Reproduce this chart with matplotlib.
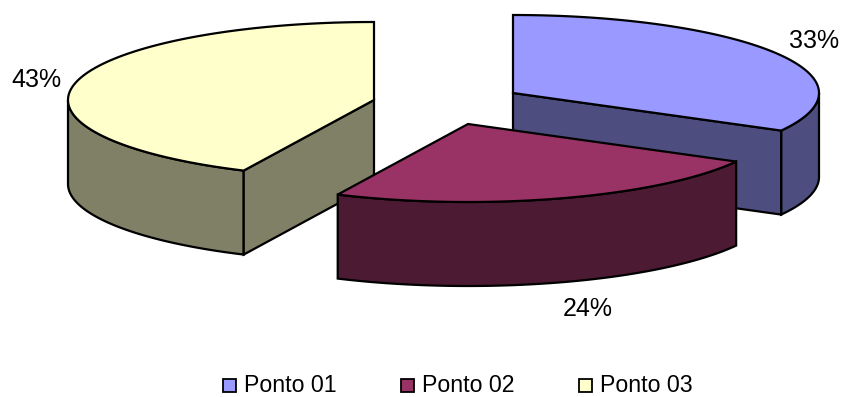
import numpy as np
import matplotlib
matplotlib.use('Agg')
import matplotlib.pyplot as plt
from matplotlib.patches import Polygon, Rectangle

plt.rcParams['font.family'] = ['Liberation Sans', 'DejaVu Sans']

# dados do grafico
nomes = ['Ponto 01', 'Ponto 02', 'Ponto 03']
valores = [33, 24, 43]
cores_topo = ['#9999FF', '#993366', '#FFFFCC']
cores_lado = ['#4D4D80', '#4D1A33', '#808066']

# centro de cada fatia (pie explodido), em pixels
centros = [(513, 93), (468, 124), (374, 100)]
rx, ry = 306, 78
prof = 84
lw = 1.6

fig = plt.figure(figsize=(8.41, 3.97), dpi=100)
ax = fig.add_axes([0, 0, 1, 1])
ax.set_xlim(0, 841)
ax.set_ylim(397, 0)
ax.axis('off')


def ponto(c, ang):
    return c[0] + rx * np.sin(ang), c[1] - ry * np.cos(ang)


def desenha_fatia(i, ini, fim, z, ang_face=None):
    c = centros[i]
    t = np.linspace(ini, fim, 200)
    x, y = ponto(c, t)
    # so a parte do arco voltada para frente tem lateral
    vis = (t >= np.pi / 2) & (t <= 3 * np.pi / 2)
    xv, yv = x[vis], y[vis]
    pts = np.r_[np.c_[xv, yv], np.c_[xv[::-1], yv[::-1] + prof]]
    ax.add_patch(Polygon(pts, closed=True, fc=cores_lado[i], ec='black', lw=lw, zorder=z))
    # face radial visivel
    if ang_face is not None:
        px, py = ponto(c, ang_face)
        quad = [c, (px, py), (px, py + prof), (c[0], c[1] + prof)]
        ax.add_patch(Polygon(quad, closed=True, fc=cores_lado[i], ec='black', lw=lw, zorder=z))
    topo = np.r_[[c], np.c_[x, y]]
    ax.add_patch(Polygon(topo, closed=True, fc=cores_topo[i], ec='black', lw=lw, zorder=z + 0.5))


acum = np.cumsum([0] + valores) / sum(valores) * 2 * np.pi
desenha_fatia(0, acum[0], acum[1], 1, ang_face=acum[1])
desenha_fatia(2, acum[2], acum[3], 2, ang_face=acum[2])
desenha_fatia(1, acum[1], acum[2], 3)

# rotulos de porcentagem
pos_rotulos = [(814, 41), (588, 309), (36, 80)]
for v, (px, py) in zip(valores, pos_rotulos):
    ax.text(px, py, f'{v}%', ha='center', va='center', fontsize=18, color='black', zorder=5)

# legenda
for i, nome in enumerate(nomes):
    x0 = 223 + 178 * i
    ax.add_patch(Rectangle((x0, 379), 13, 13, fc=cores_topo[i], ec='black', lw=1.3, zorder=5))
    ax.text(x0 + 21, 392, nome, ha='left', va='baseline', fontsize=16.7, color='black', zorder=5)

fig.savefig('out.png', dpi=100, facecolor='white')
